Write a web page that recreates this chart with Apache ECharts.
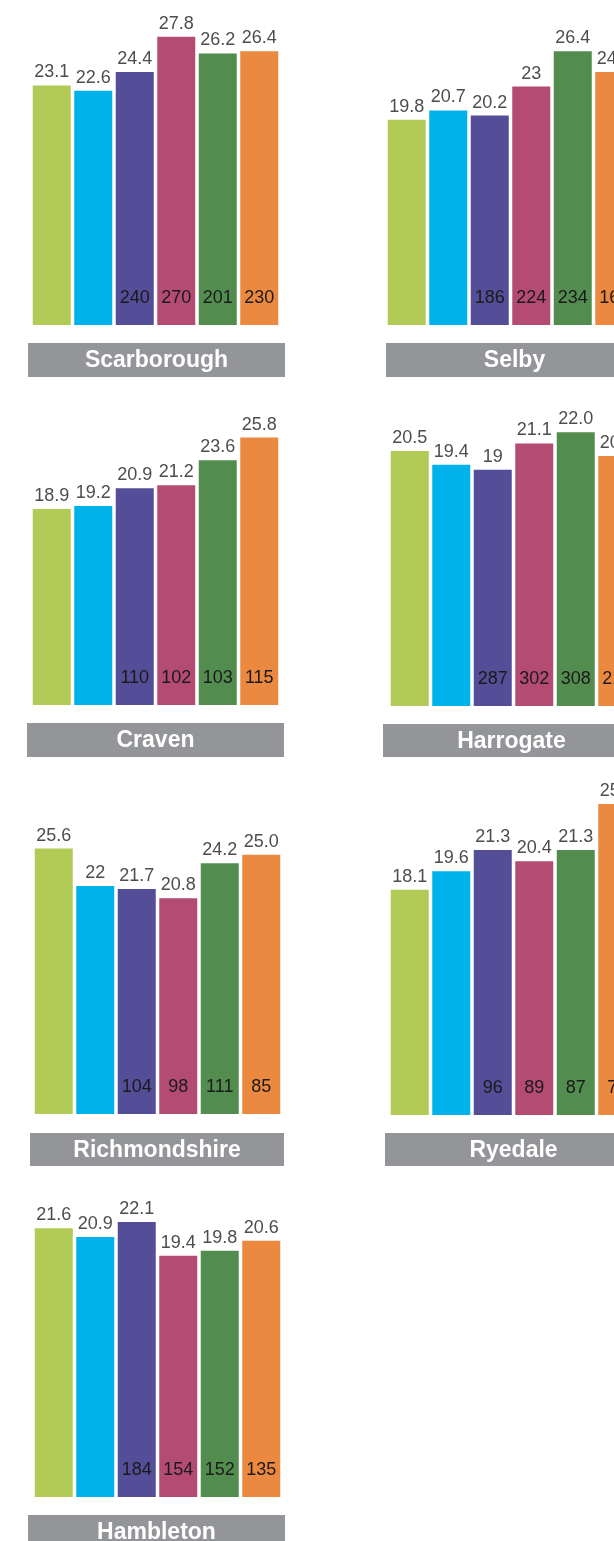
<!DOCTYPE html>
<html>
<head>
<meta charset="utf-8">
<script src="https://cdn.jsdelivr.net/npm/echarts@6/dist/echarts.min.js"></script>
<style>
html,body{margin:0;padding:0;background:#fff;overflow:hidden;}
#c{width:700px;height:1541px;}
</style>
</head>
<body>
<div id="c"></div>
<script>
// Data
var categories = ['c1','c2','c3','c4','c5','c6'];
var districts = ['Scarborough','Selby','Craven','Harrogate','Richmondshire','Ryedale','Hambleton'];
var scarboroughValues = [23.1, 22.6, 24.4, 27.8, 26.2, 26.4];
var scarboroughCounts = [null, null, 240, 270, 201, 230];
var selbyValues = [19.8, 20.7, 20.2, 23, 26.4, 24.4];
var selbyCounts = [null, null, 186, 224, 234, 160];
var cravenValues = [18.9, 19.2, 20.9, 21.2, 23.6, 25.8];
var cravenCounts = [null, null, 110, 102, 103, 115];
var harrogateValues = [20.5, 19.4, 19, 21.1, 22.0, 20.1];
var harrogateCounts = [null, null, 287, 302, 308, 215];
var richmondshireValues = [25.6, 22, 21.7, 20.8, 24.2, 25.0];
var richmondshireCounts = [null, null, 104, 98, 111, 85];
var ryedaleValues = [18.1, 19.6, 21.3, 20.4, 21.3, 25.0];
var ryedaleCounts = [null, null, 96, 89, 87, 75];
var hambletonValues = [21.6, 20.9, 22.1, 19.4, 19.8, 20.6];
var hambletonCounts = [null, null, 184, 154, 152, 135];
// labels as printed (some without decimals)
var scarboroughLabels = ['23.1','22.6','24.4','27.8','26.2','26.4'];
var selbyLabels = ['19.8','20.7','20.2','23','26.4','24.4'];
var cravenLabels = ['18.9','19.2','20.9','21.2','23.6','25.8'];
var harrogateLabels = ['20.5','19.4','19','21.1','22.0','20.1'];
var richmondshireLabels = ['25.6','22','21.7','20.8','24.2','25.0'];
var ryedaleLabels = ['18.1','19.6','21.3','20.4','21.3','25.0'];
var hambletonLabels = ['21.6','20.9','22.1','19.4','19.8','20.6'];

var colors = ['#b1cb56','#00b2ea','#544d97','#b34b73','#528d4f','#ea893f'];

var panels = [
  {name: districts[0], v: scarboroughValues, c: scarboroughCounts, l: scarboroughLabels, left: 31, bottom: 325, max: 30, box: [28, 343, 257, 34]},
  {name: districts[1], v: selbyValues, c: selbyCounts, l: selbyLabels, left: 386, bottom: 325, max: 30, box: [386, 343, 257, 34]},
  {name: districts[2], v: cravenValues, c: cravenCounts, l: cravenLabels, left: 31, bottom: 705, max: 30, box: [27, 723, 257, 34]},
  {name: districts[3], v: harrogateValues, c: harrogateCounts, l: harrogateLabels, left: 389, bottom: 706, max: 25, box: [383, 724, 257, 33]},
  {name: districts[4], v: richmondshireValues, c: richmondshireCounts, l: richmondshireLabels, left: 33, bottom: 1114, max: 30, box: [30, 1133, 254, 33]},
  {name: districts[5], v: ryedaleValues, c: ryedaleCounts, l: ryedaleLabels, left: 389, bottom: 1115, max: 25, box: [385, 1133, 257, 33]},
  {name: districts[6], v: hambletonValues, c: hambletonCounts, l: hambletonLabels, left: 33, bottom: 1497, max: 25, box: [28, 1515, 257, 34]}
];

var H = 311, W = 249;
var grids = [], xAxes = [], yAxes = [], series = [], graphics = [];
var FONT = '"Liberation Sans",Arial,sans-serif';

panels.forEach(function(p, i){
  grids.push({left: p.left, top: p.bottom - H, width: W, height: H});
  xAxes.push({type: 'category', gridIndex: i, data: categories, show: false});
  yAxes.push({type: 'value', gridIndex: i, min: 0, max: p.max, show: false});
  series.push({
    type: 'bar', xAxisIndex: i, yAxisIndex: i, barWidth: 38,
    data: p.v.map(function(val, k){ return {value: val, itemStyle: {color: colors[k]}}; }),
    label: {show: true, position: 'top', distance: 4, color: '#4d4d4d',
      fontFamily: FONT, fontSize: 18,
      formatter: (function(labels){ return function(d){ return labels[d.dataIndex]; }; })(p.l)},
    animation: false, silent: true
  });
  series.push({
    type: 'bar', xAxisIndex: i, yAxisIndex: i, barWidth: 38, barGap: '-100%',
    data: p.v.map(function(val){ return {value: val, itemStyle: {color: 'rgba(0,0,0,0)'}}; }),
    label: {show: true, position: 'insideBottom', distance: 18, color: '#1a1a1a',
      fontFamily: FONT, fontSize: 18,
      formatter: (function(counts){ return function(d){ var c = counts[d.dataIndex]; return c == null ? '' : String(c); }; })(p.c)},
    animation: false, silent: true
  });
  graphics.push({
    type: 'rect', shape: {x: p.box[0], y: p.box[1], width: p.box[2], height: p.box[3]},
    style: {fill: '#939598'}, silent: true
  });
  graphics.push({
    type: 'text', x: p.box[0] + p.box[2] / 2, y: p.box[1] + p.box[3] / 2 + 1,
    style: {text: p.name, fill: '#ffffff', font: 'bold 23px "Liberation Sans", Arial, sans-serif',
      align: 'center', verticalAlign: 'middle'}, silent: true
  });
});

var chart = echarts.init(document.getElementById('c'), null, {renderer: 'canvas'});
chart.setOption({
  animation: false,
  grid: grids, xAxis: xAxes, yAxis: yAxes, series: series,
  graphic: graphics
});
</script>
</body>
</html>
